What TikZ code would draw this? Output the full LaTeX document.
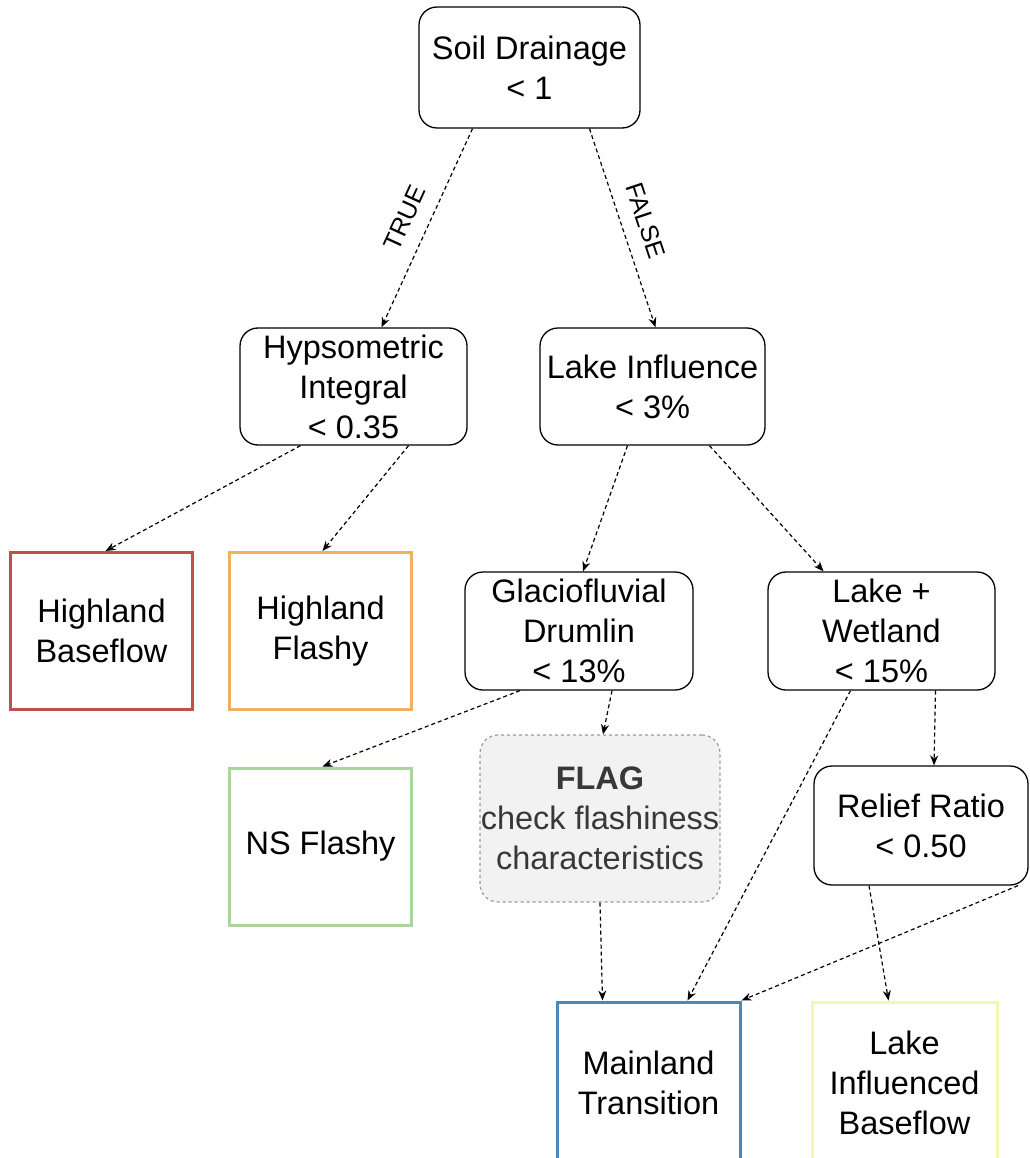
\documentclass[tikz,border=0pt]{standalone}
\usepackage{fontspec}
\setmainfont{Liberation Sans}
\usetikzlibrary{arrows.meta,calc}
\definecolor{cred}{HTML}{C0504D}
\definecolor{corange}{HTML}{F0B060}
\definecolor{cgreen}{HTML}{ABD5A0}
\definecolor{cblue}{HTML}{4A8AB8}
\definecolor{cyellow}{HTML}{F6F6B4}
\definecolor{flagfill}{HTML}{F2F2F2}
\definecolor{flagdraw}{HTML}{9A9A9A}
\begin{document}
\begin{tikzpicture}[x=1pt,y=-1pt,
  every node/.style={font=\fontsize{32.5}{40}\selectfont, align=center, inner sep=0pt},
  decision/.style={draw=black, line width=1.3pt, rounded corners=18pt, minimum width=#1},
  decision/.default=227pt,
  leaf/.style={draw=#1, line width=3pt, minimum width=182pt, minimum height=157pt},
  flagbox/.style={draw=flagdraw, fill=flagfill, dashed, line width=1.2pt, rounded corners=18pt, minimum width=240pt, minimum height=167pt, text=black!78},
  conn/.style={-{Stealth[length=10pt,width=8pt]}, line width=1.2pt, dash pattern=on 4pt off 3pt},
  lbl/.style={font=\fontsize{25}{28}\selectfont}
]
\useasboundingbox (0,0) rectangle (1029,1158);
% decision nodes
\node[decision=221pt, minimum height=121pt] (soil) at (529.5,67.5) {Soil Drainage\\< 1};
\node[decision, minimum height=117pt] (hyp) at (353.5,386.5) {Hypsometric\\Integral\\< 0.35};
\node[decision=225pt, minimum height=117pt] (lake) at (652.5,386.5) {Lake Influence\\< 3\%};
\node[decision=228pt, minimum height=118pt] (glac) at (579,631) {Glaciofluvial\\Drumlin\\< 13\%};
\node[decision, minimum height=118pt] (lw) at (881.5,631) {Lake +\\Wetland\\< 15\%};
\node[decision=214pt, minimum height=119pt] (rel) at (921,825.5) {Relief Ratio\\< 0.50};
% leaves
\node[leaf=cred] (hb) at (101.5,631) {Highland\\Baseflow};
\node[leaf=corange] (hf) at (320.5,631) {Highland\\Flashy};
\node[leaf=cgreen] (ns) at (320.5,846.5) {NS Flashy};
\node[flagbox] (flag) at (600,818.5) {\textbf{FLAG}\\check flashiness\\characteristics};
\node[leaf=cblue, minimum width=183pt, minimum height=162pt] (main) at (648.5,1083) {Mainland\\Transition};
\node[leaf=cyellow, minimum width=185pt, minimum height=162pt] (lib) at (904.5,1083) {Lake\\Influenced\\Baseflow};
% connectors
\draw[conn] ([xshift=-57pt]soil.south) -- node[lbl, sloped, above=15pt] {TRUE} ([xshift=28pt]hyp.north);
\draw[conn] ([xshift=60pt]soil.south) -- node[lbl, sloped, above=15pt] {FALSE} ([xshift=3pt]lake.north);
\draw[conn] ([xshift=-53pt]hyp.south) -- ([xshift=4pt]hb.north);
\draw[conn] ([xshift=55pt]hyp.south) -- ([xshift=2pt]hf.north);
\draw[conn] ([xshift=-25pt]lake.south) -- ([xshift=4pt]glac.north);
\draw[conn] ([xshift=57pt]lake.south) -- ([xshift=-58pt]lw.north);
\draw[conn] ([xshift=-59pt]glac.south) -- ([xshift=2pt]ns.north);
\draw[conn] ([xshift=33pt]glac.south) -- ([xshift=3pt]flag.north);
\draw[conn] ([xshift=-31pt]lw.south) -- ([xshift=39pt]main.north);
\draw[conn] ([xshift=54pt]lw.south) -- ([xshift=13pt]rel.north);
\draw[conn] (flag.south) -- ([xshift=-46pt]main.north);
\draw[conn] ([xshift=97pt]rel.south) -- (main.north east);
\draw[conn] ([xshift=-52pt]rel.south) -- ([xshift=-16pt]lib.north);
\end{tikzpicture}
\end{document}
